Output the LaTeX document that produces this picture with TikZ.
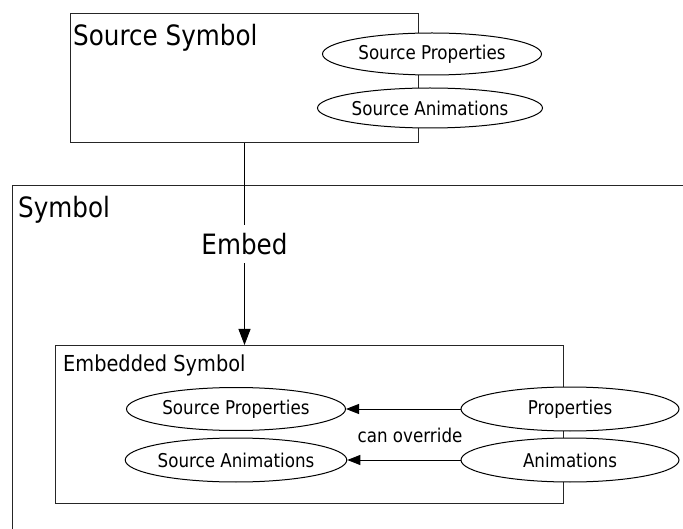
\documentclass[tikz,border=0pt]{standalone}
\usepackage{fontspec}
\setmainfont{DejaVu Sans}[FakeStretch=0.88]
\usetikzlibrary{shapes.geometric,arrows.meta}
\tikzset{
  box/.style={rectangle, draw=black!85, line width=1pt, fill=white, inner sep=0pt},
  prop/.style={ellipse, draw=black, line width=1pt, fill=white, inner sep=0pt,
               minimum width=219pt, minimum height=43pt, font=\fontsize{19}{22}\selectfont},
  ar/.style={-{Triangle[length=13pt,width=10pt]}, line width=1pt}
}

\begin{document}
\begin{tikzpicture}[
  x=1pt, y=-1pt,
  ttl/.style={anchor=base west, inner sep=0pt, font=\fontsize{28}{32}\selectfont},
  subttl/.style={anchor=base west, inner sep=0pt, font=\fontsize{22}{26}\selectfont},
  lbl/.style={inner sep=0pt, font=\fontsize{19}{22}\selectfont},
  dn/.style={-{Triangle[length=16pt,width=12pt]}, line width=1pt}
]
\useasboundingbox (0,0) rectangle (683,529);
\clip (0,0) rectangle (683,529);
% ---- Symbol ----
\node[box, anchor=north west, minimum width=720pt, minimum height=400pt] (sym) at (12,185) {};
\node[ttl] (symt) at (18,218) {Symbol};
% ---- Source Symbol ----
\node[box, anchor=north west, minimum width=348pt, minimum height=129pt] (src) at (70,13) {};
\node[ttl] (srct) at (73,46) {Source Symbol};
\node[prop, minimum height=42pt] (srcp) at (432,54) {Source Properties};
\node[prop, minimum width=225pt, minimum height=40pt] (srca) at (430,108) {Source Animations};
% ---- Embedded Symbol ----
\node[box, anchor=north west, minimum width=508pt, minimum height=158pt] (emb) at (55,345) {};
\node[subttl] (embt) at (63,372) {Embedded Symbol};
\node[prop] (embp) at (236,409) {Source Properties};
\node[prop, minimum height=44pt] (emba) at (236,460) {Source Animations};
\node[prop, minimum width=218pt, minimum height=44pt] (prp) at (570,409) {Properties};
\node[prop, minimum width=218pt, minimum height=44pt] (anm) at (570,460) {Animations};
\node[lbl, anchor=base] (ovr) at (410,442) {can override};
% ---- arrows ----
\draw[dn] (src.south) -- node[fill=white, inner xsep=2pt, inner ysep=8pt, font=\fontsize{28}{32}\selectfont] (emd) {Embed} (src.south |- emb.north);
\draw[ar] (prp) -- (embp);
\draw[ar] (anm) -- (emba);
\end{tikzpicture}
\end{document}
